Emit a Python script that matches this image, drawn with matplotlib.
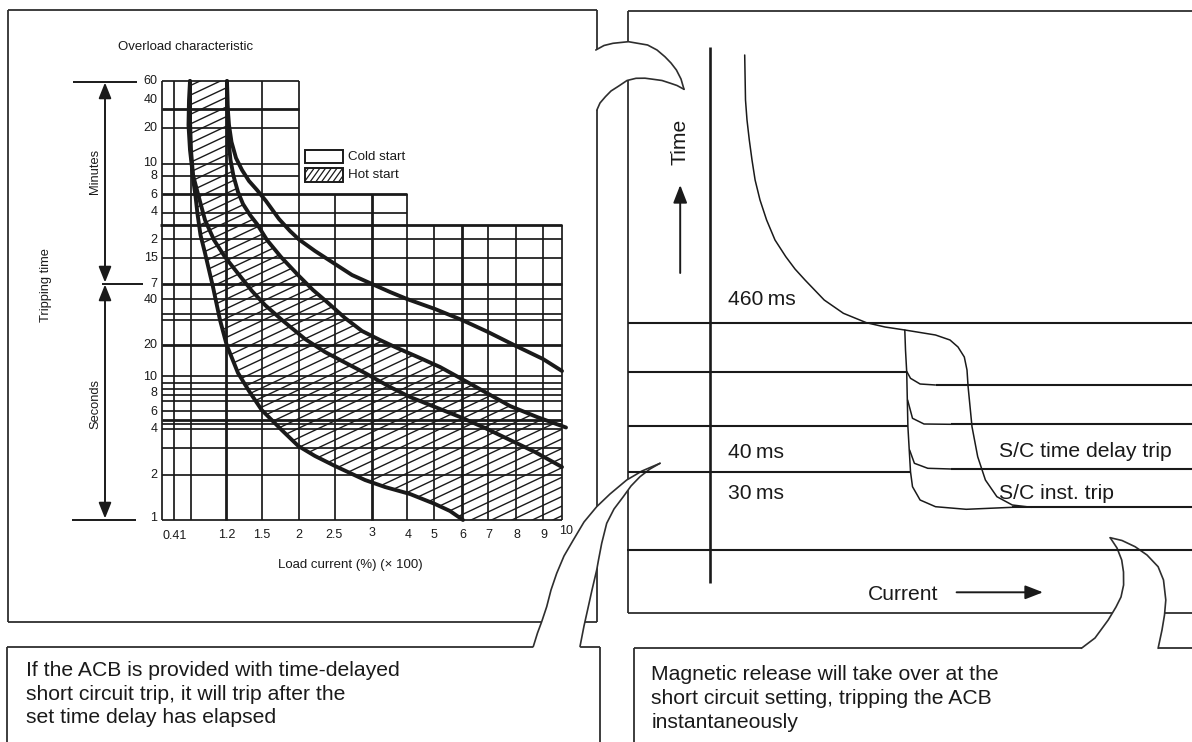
import numpy as np
import matplotlib
matplotlib.use("Agg")
import matplotlib.pyplot as plt
from matplotlib.patches import Polygon, Rectangle

plt.rcParams["font.family"] = ["Liberation Sans", "DejaVu Sans"]

INK = "#1a1a1a"
FRAME = "#2e2e2e"

# ---------------- overload characteristic (left panel) ----------------
# grid columns: x, top, bottom, heavy
grid_cols = [
    (162, 81, 520, False), (174, 81, 520, False), (191, 81, 520, False),
    (226, 81, 520, True), (262, 81, 520, False), (299, 81, 520, False),
    (335, 194, 520, False), (372, 194, 520, True), (407, 194, 520, False),
    (434, 224.5, 520, False), (462, 224.5, 520, True), (488, 224.5, 520, False),
    (516, 224.5, 520, False), (543, 224.5, 520, False), (562, 224.5, 520, False),
]
# grid rows: y, left, right, heavy
grid_rows = [
    (81, 162, 299, False), (109, 162, 299, True), (128, 162, 299, False),
    (164, 162, 299, False), (175.7, 162, 299, False), (194.3, 162, 407, True),
    (212.7, 162, 407, False), (224.5, 160, 562, True), (239.3, 162, 562, False),
    (257.7, 162, 562, False), (283.5, 162, 562, True), (299, 162, 562, False),
    (314.3, 162, 562, False), (319.5, 162, 562, False), (345, 162, 562, True),
    (376, 162, 562, False), (383, 162, 562, False), (389, 162, 562, False),
    (395, 162, 562, False), (401, 162, 562, False), (410.7, 162, 562, False),
    (419.5, 162, 562, True), (424, 162, 562, False), (428.7, 162, 562, False),
    (447.7, 162, 562, False), (474.5, 162, 562, False), (520, 162, 562, False),
]

time_labels = ["60", "40", "20", "10", "8", "6", "4", "2", "15", "7",
               "40", "20", "10", "8", "6", "4", "2", "1"]
time_label_y = [81, 100, 128, 163, 176, 195, 212, 240, 258, 284,
                300, 345, 377, 393, 412, 429, 475, 518]

load_labels = ["0.41", "1.2", "1.5", "2", "2.5", "3", "4", "5", "6", "7", "8", "9", "10"]
load_label_x = [175, 227, 262, 299, 334, 372, 408, 434, 462.5, 489, 516.5, 544, 566]
load_label_y = [536, 535, 535, 535, 535, 533, 535, 535, 535, 535, 535, 535, 531]

# tripping curves
curve_a = [(190, 81), (189, 100), (188.5, 125), (190, 150), (191.7, 165), (193.5, 182),
           (195.5, 196), (197.5, 214), (200.5, 235), (205, 253), (209, 270), (213, 287),
           (220, 320), (226.7, 345), (238, 373), (249, 391), (261.7, 410), (281.7, 430),
           (298.3, 446), (315, 456), (335, 466), (365, 480), (385, 487), (410, 494),
           (435, 504), (450, 511), (463, 520)]
curve_b = [(190, 81), (190, 120), (191, 150), (193, 175), (198, 194), (205, 220),
           (214, 240), (225, 257), (240, 276), (252, 291), (265, 305), (282, 320),
           (305, 339), (325, 352), (342, 361), (365, 373), (390, 387), (410, 397),
           (435, 407), (460, 417), (485, 428), (510, 440), (535, 452), (562, 467)]
curve_c = [(227, 81), (227.5, 110), (228.5, 140), (230.5, 160), (233.5, 176), (238, 192),
           (243, 204), (250, 215), (257, 224), (267, 240), (281, 257), (298, 275),
           (313, 290), (327, 302), (345, 318), (362, 331), (380, 340), (395, 347),
           (420, 358), (440, 367), (460, 378), (485, 392), (510, 406), (537, 417), (566, 427.5)]
curve_d = [(227, 81), (227.5, 105), (229, 125), (231.5, 142), (236, 158), (242, 170),
           (249, 181), (257, 190), (266, 201), (279, 219), (290, 231), (299, 239.5),
           (315, 251), (335, 264), (352, 275), (372, 284), (390, 292), (407, 299),
           (435, 309), (462, 320), (488, 332), (516, 346), (543, 359), (562, 371)]

# ---------------- short-circuit characteristic (right panel) ----------------
trip_curve = [(744.7, 55), (745.5, 100), (747, 120), (749.3, 140), (752, 160), (755.1, 180),
              (760, 200), (766.6, 220), (775, 240), (785.8, 256.7), (795, 269), (805, 280),
              (824.2, 300), (843.4, 313.3), (866.4, 322.7), (885, 327), (904.8, 330),
              (935.5, 335), (950, 340), (958, 347), (964.3, 357), (967, 370), (968.1, 386.7),
              (972, 426.7), (977.7, 456.7), (985.4, 480), (996.9, 496.7), (1012.3, 505),
              (1031.5, 507.3)]
delay_branch = [(904.8, 330), (905.5, 350), (906.7, 371.7), (907.9, 426.7), (910.5, 471.7),
                (912.5, 486.7), (920.1, 500), (935.5, 506.7), (966.2, 509.3), (1012.3, 507.3)]
delay_steps = [
    [(906.9, 371.7), (910.5, 378.3), (920.1, 384), (935.5, 385)],
    [(907.6, 400), (912.5, 418.3), (924, 424), (950.8, 424.3)],
    [(909.6, 450), (914.4, 463.3), (927.8, 468.3), (950.8, 469)],
]
# horizontal levels: y, start, end
level_lines = [(322.7, 628, 1192), (371.7, 628, 906.7), (425.7, 628, 907.9),
               (471.7, 628, 910.5), (550, 627, 1192), (385, 935.5, 1192),
               (424.3, 950.8, 1192), (469, 950.8, 1192), (507.3, 1012, 1192)]

# ---------------- callouts ----------------
top_call_a = [(595.8, 50), (604, 45.5), (613, 43.3), (628.4, 41.7), (647.6, 45),
              (657, 50), (664.9, 56.7), (671, 63), (676.4, 70), (681, 79), (684, 89.3)]
top_call_b = [(684, 89.3), (677, 85.5), (670.6, 83.3), (662, 80.5), (653.3, 79.3), (645, 78.2),
              (636, 78.3), (627, 80.5), (618.8, 86), (611, 91), (605.4, 96.7), (600, 103), (596.9, 110)]
left_call_a = [(533.3, 646.5), (537.5, 633), (541.7, 621.7), (546.7, 606.7), (551, 590),
               (556.7, 573.3), (564, 556), (573.3, 540), (584, 522), (596.7, 506.7),
               (610, 494), (626.7, 480), (642, 471), (660, 463.3)]
left_call_b = [(660, 463.3), (650, 469), (640, 476.7), (631, 486), (623.3, 496.7),
               (614, 509), (606.7, 523.3), (601.7, 543.3), (598.5, 560), (596.7, 570),
               (592, 590), (588.3, 606.7), (584, 626), (580, 646.5)]
btm_call_a = [(1081.4, 648.3), (1095, 638), (1108.2, 620), (1116, 607), (1121, 597),
              (1123.6, 585), (1123.5, 572), (1121.7, 560), (1117, 548), (1110.2, 537.7)]
btm_call_b = [(1110.2, 537.7), (1122, 540.5), (1135.1, 546.7), (1147, 555), (1158.1, 566.7),
              (1163.5, 580), (1165.8, 600), (1164.5, 615), (1162, 630), (1158.1, 648.3)]

fig = plt.figure(figsize=(11.92, 7.42), dpi=100)
ax = fig.add_axes([0, 0, 1, 1])
ax.set_xlim(0, 1192)
ax.set_ylim(742, 0)
ax.axis("off")


def seg(xs, ys, lw, color=INK, z=3, cap="butt"):
    ax.plot(xs, ys, color=color, lw=lw, solid_capstyle=cap, solid_joinstyle="round", zorder=z)


def path(pts, lw, color=INK, z=3):
    p = np.array(pts)
    ax.plot(p[:, 0], p[:, 1], color=color, lw=lw, solid_capstyle="round",
            solid_joinstyle="round", zorder=z)


# panel frames
seg([8, 596.5], [9.5, 9.5], 1.3, FRAME, 1)
seg([8, 8], [9.5, 621.7], 1.3, FRAME, 1)
seg([8, 596.5], [621.7, 621.7], 1.3, FRAME, 1)
seg([596.5, 596.5], [9.5, 621.7], 1.3, FRAME, 1)
seg([628.4, 1195], [11, 11], 1.3, FRAME, 1)
seg([628.4, 628.4], [11, 613.3], 1.3, FRAME, 1)
seg([628.4, 1195], [613.3, 613.3], 1.3, FRAME, 1)
seg([7, 600], [646.7, 646.7], 1.3, FRAME, 1)
seg([7, 7], [646.7, 745], 1.3, FRAME, 1)
seg([600, 600], [646.7, 745], 1.3, FRAME, 1)
seg([634.1, 1195], [648.3, 648.3], 1.3, FRAME, 1)
seg([634.1, 634.1], [648.3, 745], 1.3, FRAME, 1)

# callout shapes mask the frames they cross
for a, b, extra in [
    (top_call_a, top_call_b, [(592, 110), (592, 50)]),
    (left_call_a, left_call_b, [(580.5, 650), (533, 650)]),
    (btm_call_a, btm_call_b, [(1158.5, 652), (1081, 652)]),
]:
    poly = a + b[1:] + extra
    ax.add_patch(Polygon(poly, closed=True, facecolor="white", edgecolor="none", zorder=2))
    path(a, 1.2, FRAME, 2.5)
    path(b, 1.2, FRAME, 2.5)

# grid
for x, y0, y1, heavy in grid_cols:
    seg([x, x], [y0, y1], 2.0 if heavy else 1.25)
for y, x0, x1, heavy in grid_rows:
    seg([x0, x1], [y, y], 2.0 if heavy else 1.25)

# hatched hot-start band between curves A and C
band = curve_c + [(562, 427.5), (562, 520), (463, 520)] + curve_a[::-1]
band_patch = Polygon(band, closed=True, facecolor="none", edgecolor="none",
                     transform=ax.transData)
ax.add_patch(band_patch)
slope = 0.47
for c in np.arange(175, 800, 9.6):
    ln, = ax.plot([150, 600], [c - slope * 150, c - slope * 600], color=INK, lw=1.0, zorder=3)
    ln.set_clip_path(band_patch)

for crv in (curve_a, curve_b, curve_c, curve_d):
    path(crv, 2.8, INK, 4)

# legend
ax.add_patch(Rectangle((305, 150), 38, 13, facecolor="white", edgecolor=INK, lw=1.4, zorder=4))
hot_box = Rectangle((305, 168), 38, 13.5, facecolor="white", edgecolor=INK, lw=1.4, zorder=4)
ax.add_patch(hot_box)
for c in np.arange(600, 760, 8.0):
    ln, = ax.plot([290, 360], [c - 1.4 * 290, c - 1.4 * 360], color=INK, lw=0.9, zorder=4)
    ln.set_clip_path(hot_box)
ax.text(348, 157, "Cold start", fontsize=9.6, va="center", ha="left", color=INK)
ax.text(348, 175, "Hot start", fontsize=9.6, va="center", ha="left", color=INK)

# axis labels
for lab, y in zip(time_labels, time_label_y):
    ax.text(157.5, y, lab, fontsize=9, ha="right", va="center", color=INK)
for lab, x, y in zip(load_labels, load_label_x, load_label_y):
    ax.text(x, y, lab, fontsize=9, ha="center", va="center", color=INK)
ax.text(350, 565, "Load current (%) (\u00d7 100)", fontsize=9.5, ha="center", va="center", color=INK)
ax.text(118, 47, "Overload characteristic", fontsize=9.5, ha="left", va="center", color=INK)
ax.text(46, 285, "Tripping time", fontsize=9.3, rotation=90, ha="center", va="center", color=INK)
ax.text(95, 171, "Minutes", fontsize=9.3, rotation=90, ha="center", va="center", color=INK)
ax.text(95, 404, "Seconds", fontsize=9.3, rotation=90, ha="center", va="center", color=INK)

# minutes / seconds brackets
seg([73, 137], [81.7, 81.7], 1.4)
seg([102, 143], [283.5, 283.5], 1.4)
seg([72, 136], [519.5, 519.5], 1.4)
arrow2 = dict(arrowstyle="<|-|>,head_length=0.95,head_width=0.38", mutation_scale=10,
              lw=1.4, color=INK, shrinkA=0, shrinkB=0)
ax.annotate("", xy=(105, 82.5), xytext=(105, 282.5), arrowprops=arrow2, zorder=3)
ax.annotate("", xy=(105, 284.5), xytext=(105, 518.5), arrowprops=arrow2, zorder=3)

# ---------------- right panel drawing ----------------
seg([710.2, 710.2], [47, 582.7], 1.9)
for y, x0, x1 in level_lines:
    seg([x0, x1], [y, y], 1.5)
path(trip_curve, 1.1)
path(delay_branch, 1.1)
for st in delay_steps:
    path(st, 1.1)

arrow1 = dict(arrowstyle="-|>,head_length=0.9,head_width=0.35", mutation_scale=12,
              lw=1.4, color=INK, shrinkA=0, shrinkB=0)
ax.annotate("", xy=(680.2, 185), xytext=(680.2, 273), arrowprops=arrow1)
ax.annotate("", xy=(1043, 592.3), xytext=(956.6, 592.3), arrowprops=arrow1)
ax.text(680.5, 141.7, "Time", fontsize=15.2, rotation=90, ha="center", va="center", color=INK)
ax.text(868.3, 600.3, "Current", fontsize=15.2, ha="left", va="baseline", color=INK)
ax.text(728.2, 305, "460\u2009ms", fontsize=15.2, ha="left", va="baseline", color=INK)
ax.text(728.2, 457.5, "40\u2009ms", fontsize=15.2, ha="left", va="baseline", color=INK)
ax.text(728.2, 499.3, "30\u2009ms", fontsize=15.2, ha="left", va="baseline", color=INK)
ax.text(998.8, 457, "S/C time delay trip", fontsize=15.2, ha="left", va="baseline", color=INK)
ax.text(998.8, 499, "S/C inst. trip", fontsize=15.2, ha="left", va="baseline", color=INK)

# captions
left_caption = ["If the ACB is provided with time-delayed",
                "short circuit trip, it will trip after the",
                "set time delay has elapsed"]
right_caption = ["Magnetic release will take over at the",
                 "short circuit setting, tripping the ACB",
                 "instantaneously"]
for i, line in enumerate(left_caption):
    ax.text(26, 676 + 23.6 * i, line, fontsize=15.2, ha="left", va="baseline", color=INK)
for i, line in enumerate(right_caption):
    ax.text(651.4, 680 + 23.8 * i, line, fontsize=15.2, ha="left", va="baseline", color=INK)

fig.savefig("out.png", dpi=100, facecolor="white")
